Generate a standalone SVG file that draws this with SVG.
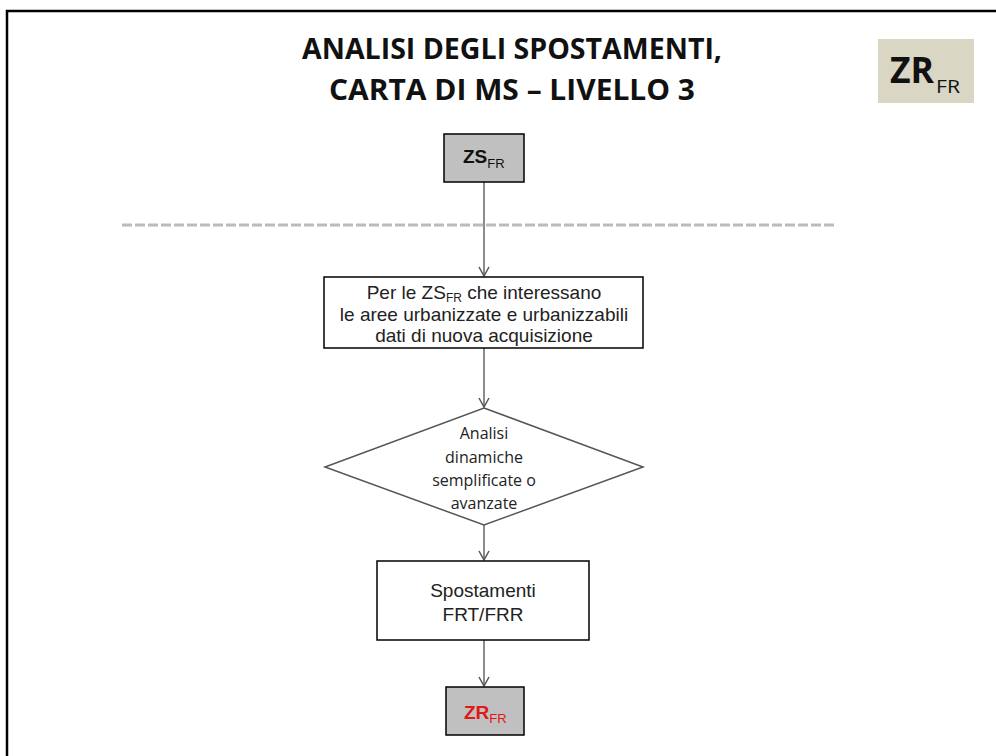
<svg xmlns="http://www.w3.org/2000/svg" width="996" height="756" viewBox="0 0 996 756">
<defs>
<style>
.box{stroke:#000;stroke-width:1.5}
.t{font-family:"Liberation Sans",Arial,sans-serif;font-size:19px;fill:#222;text-anchor:middle}
.c{font-family:"Open Sans","Liberation Sans",sans-serif;font-size:16px;fill:#222;text-anchor:middle}
.conn{stroke:#666;stroke-width:1.5;fill:none}
</style>
<marker id="ah" markerWidth="12" markerHeight="12" refX="10" refY="6" orient="auto" markerUnits="userSpaceOnUse">
<path d="M1,1 L10,6 L1,11" fill="none" stroke="#555" stroke-width="1.5"/>
</marker>
</defs>
<rect width="996" height="756" fill="#fff"/>
<path d="M7,758 L7,11 L998,11" fill="none" stroke="#000" stroke-width="2.5"/>
<g id="title" font-family="'Open Sans','Liberation Sans',sans-serif" font-weight="bold" font-size="29" fill="#111" text-anchor="middle">
<text x="512" y="59" textLength="420" lengthAdjust="spacingAndGlyphs">ANALISI DEGLI SPOSTAMENTI,</text>
<text x="512" y="100" textLength="366" lengthAdjust="spacingAndGlyphs">CARTA DI MS – LIVELLO 3</text>
</g>
<g id="badge">
<rect x="878" y="39" width="96" height="64" fill="#d9d6c4"/>
<text x="890" y="83" font-family="'Open Sans','Liberation Sans',sans-serif" font-weight="bold" font-size="36" fill="#111" textLength="44" lengthAdjust="spacingAndGlyphs">ZR</text>
<text x="936" y="93" font-family="'Open Sans','Liberation Sans',sans-serif" font-size="18" fill="#111" textLength="24" lengthAdjust="spacingAndGlyphs">FR</text>
</g>
<line x1="122" y1="225" x2="837" y2="225" stroke="#bbb" stroke-width="3" stroke-dasharray="10,3"/>
<g id="connectors">
<line class="conn" x1="484" y1="182" x2="484" y2="276" marker-end="url(#ah)"/>
<line class="conn" x1="484" y1="348" x2="484" y2="407" marker-end="url(#ah)"/>
<line class="conn" x1="484" y1="525" x2="484" y2="560" marker-end="url(#ah)"/>
<line class="conn" x1="484" y1="640" x2="484" y2="686" marker-end="url(#ah)"/>
</g>
<g id="zs">
<rect class="box" x="444" y="134" width="80" height="48" fill="#c0c0c0"/>
<text x="463" y="163" font-family="'Liberation Sans',Arial,sans-serif" font-weight="bold" font-size="19" fill="#111"><tspan>ZS</tspan><tspan font-weight="normal" font-size="13" dy="5">FR</tspan></text>
</g>
<g id="per">
<rect class="box" x="324" y="277" width="319" height="71" fill="#fff"/>
<text class="t" x="484" y="299"><tspan>Per le ZS</tspan><tspan font-size="12" dy="3">FR</tspan><tspan dy="-3"> che interessano</tspan></text>
<text class="t" x="484" y="321">le aree urbanizzate e urbanizzabili</text>
<text class="t" x="484" y="342">dati di nuova acquisizione</text>
</g>
<g id="analisi">
<polygon points="484,408 643,467 484,525 325,467" fill="#fff" stroke="#555" stroke-width="1.5"/>
<text class="c" x="484" y="439">Analisi</text>
<text class="c" x="484" y="463">dinamiche</text>
<text class="c" x="484" y="486">semplificate o</text>
<text class="c" x="484" y="509">avanzate</text>
</g>
<g id="spost">
<rect class="box" x="377" y="561" width="212" height="79" fill="#fff"/>
<text class="t" x="483" y="597">Spostamenti</text>
<text class="t" x="483" y="621">FRT/FRR</text>
</g>
<g id="zr">
<rect class="box" x="446" y="687" width="78" height="48" fill="#c0c0c0"/>
<text x="464" y="719" font-family="'Liberation Sans',Arial,sans-serif" font-weight="bold" font-size="19" fill="#e01818"><tspan>ZR</tspan><tspan font-weight="normal" font-size="13" dy="4">FR</tspan></text>
</g>
</svg>
